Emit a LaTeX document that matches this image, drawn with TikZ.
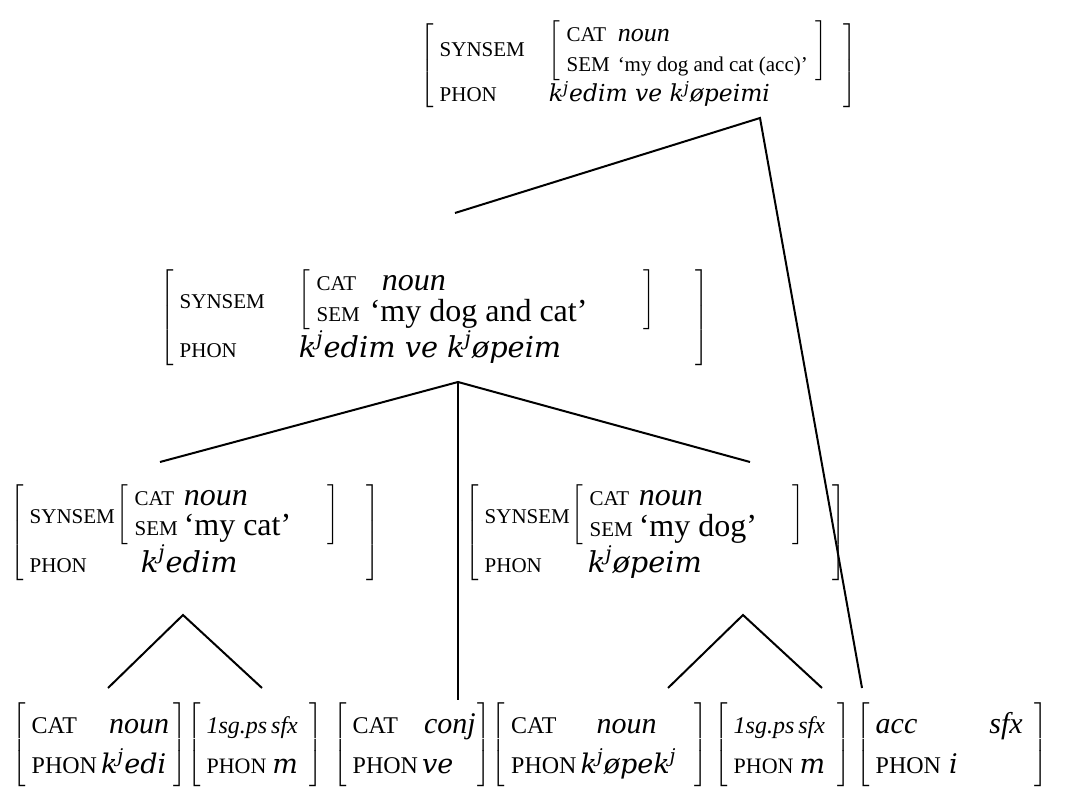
\documentclass[tikz,border=0pt]{standalone}
\usepackage{fontspec}
\setmainfont{Liberation Serif}
\newfontfamily\phonfont[Scale=0.9]{DejaVu Serif}
\usetikzlibrary{positioning}

% feature names and values inside the AVMs
\newcommand{\feat}[1]{{\fontsize{10.5}{15}\selectfont #1}}
\newcommand{\bfeat}[1]{{\fontsize{12}{20}\selectfont #1}}
\newcommand{\sfeat}[1]{{\fontsize{11}{20}\selectfont #1}}
\newcommand{\val}[1]{\textit{#1}}
\newcommand{\ph}[1]{{\phonfont\itshape #1}}
\newcommand{\kj}{k\textsuperscript{j}}
% #1 gap between columns, #2 space before the right bracket, #3 rows
\newcommand{\avm}[3]{$\left[\begin{tabular}{@{\hspace{3pt}}l@{\hspace{#1}}l@{\hspace{#2}}}#3\end{tabular}\right]$}

\begin{document}
\begin{tikzpicture}[
        x=0.5pt, y=-0.5pt,
        sign/.style={
            inner sep=0pt, anchor=west,
            font=\fontsize{16}{15}\selectfont
        },
        leaf/.style={
            inner sep=0pt, anchor=west,
            font=\fontsize{15}{20}\selectfont
        },
        branch/.style={
            line width=1pt,
            draw=black
        }
    ]
    \useasboundingbox (0,0) rectangle (1065,790);

    % =========================
    % Signs of the tree
    % =========================
    \node[sign, font=\fontsize{13}{15}\selectfont] (whole) at (420,66) {\avm{12pt}{8pt}{%
        \feat{SYNSEM} & \avm{4pt}{4pt}{\feat{CAT} & \val{noun}\\ \feat{SEM} & {\fontsize{10.5}{15}\selectfont `my dog and cat (acc)'}}\\
        \feat{PHON} & \ph{\kj edim ve \kj øpeimi}}};

    \node[sign] (coord) at (160,318) {\avm{17pt}{20pt}{%
        \feat{SYNSEM} & \avm{5pt}{28pt}{\feat{CAT} & \hspace{6pt}\val{noun}\\ \feat{SEM} & `my dog and cat'}\\
        \feat{PHON} & \ph{\kj edim ve \kj øpeim}}};

    \node[sign] (mycat) at (10,533) {\avm{1pt}{14pt}{%
        \feat{SYNSEM} & \avm{3pt}{18pt}{\feat{CAT} & \val{noun}\\ \feat{SEM} & `my cat'}\\
        \feat{PHON} & \hspace{12pt}\ph{\kj edim}}};

    \node[sign] (mydog) at (465,533) {\avm{1pt}{14pt}{%
        \feat{SYNSEM} & \avm{3pt}{18pt}{\feat{CAT} & \val{noun}\\ \feat{SEM} & `my dog'}\\
        \feat{PHON} & \hspace{8pt}\ph{\kj øpeim}}};

    % =========================
    % Leaves
    % =========================
    \node[leaf] (cat) at (12,745) {\avm{2pt}{2pt}{%
        \bfeat{CAT} & \hspace{4pt}\val{noun}\\ \bfeat{PHON} & \ph{\kj edi}}};
    \node[leaf, right=0pt of cat] (sfxa) {\avm{3pt}{1pt}{%
        \multicolumn{2}{@{\hspace{3pt}}l}{\fontsize{12}{20}\selectfont\val{1sg.ps\hspace{2pt}sfx}}\\ \sfeat{PHON} & \ph{m}}};
    \node[leaf] (conj) at (333,745) {\avm{2pt}{1pt}{%
        \bfeat{CAT} & \hspace{1pt}\val{conj}\\ \bfeat{PHON} & \ph{ve}}};
    \node[leaf, right=0pt of conj] (dog) {\avm{2pt}{9pt}{%
        \bfeat{CAT} & \hspace{8pt}\val{noun}\\ \bfeat{PHON} & \ph{\kj øpek\textsuperscript{j}}}};
    \node[leaf] (sfxb) at (714,745) {\avm{3pt}{1pt}{%
        \multicolumn{2}{@{\hspace{3pt}}l}{\fontsize{12}{20}\selectfont\val{1sg.ps\hspace{2pt}sfx}}\\ \sfeat{PHON} & \ph{m}}};
    \node[leaf] (acc) at (856,745) {\avm{4pt}{6pt}{%
        \multicolumn{2}{@{\hspace{3pt}}l}{\val{acc}\hspace{36pt}\val{sfx}}\\ \bfeat{PHON} & \ph{i}}};

    % =========================
    % Branches
    % =========================
    \coordinate (wholefoot) at (760,118);
    \coordinate (coordtop) at (455,213);
    \coordinate (acctop) at (862,688);
    \coordinate (coordfoot) at (458,382);
    \coordinate (cattop) at (160,462);
    \coordinate (conjtop) at (458,700);
    \coordinate (dogtop) at (750,462);
    \coordinate (catfoot) at (183,615);
    \coordinate (catl) at (108,688);
    \coordinate (catr) at (262,688);
    \coordinate (dogfoot) at (743,615);
    \coordinate (dogl) at (668,688);
    \coordinate (dogr) at (822,688);

    \draw[branch] (coordtop) -- (wholefoot) -- (acctop);
    \draw[branch] (cattop) -- (coordfoot) -- (dogtop);
    \draw[branch] (coordfoot) -- (conjtop);
    \draw[branch] (catl) -- (catfoot) -- (catr);
    \draw[branch] (dogl) -- (dogfoot) -- (dogr);

\end{tikzpicture}
\end{document}
